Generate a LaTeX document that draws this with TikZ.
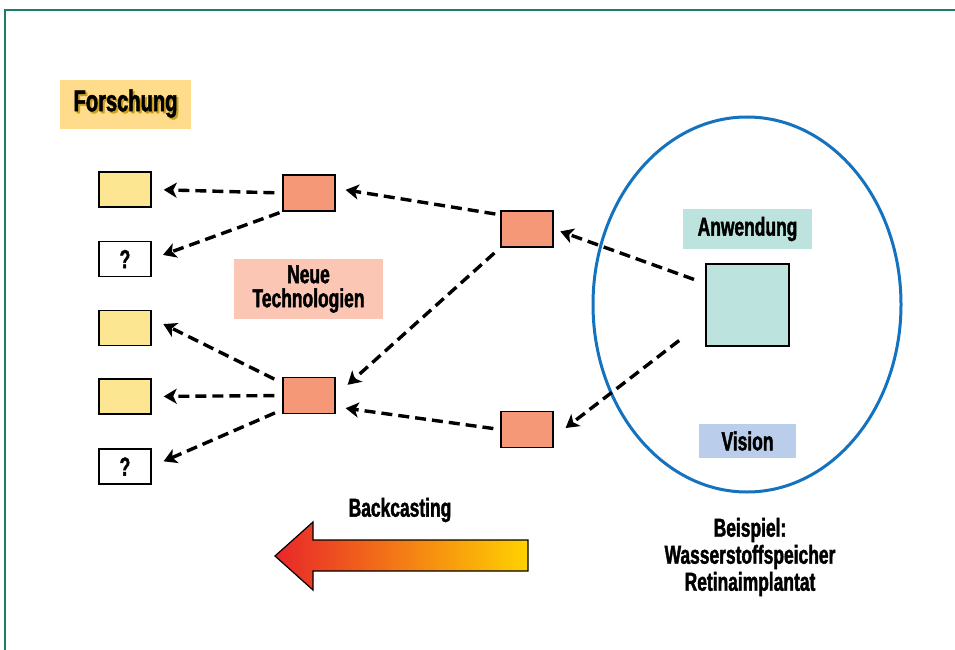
\documentclass[tikz,border=0pt]{standalone}
\usepackage{fontspec}
\setmainfont{Liberation Sans}[FakeStretch=0.67,BoldFeatures={FakeBold=1.6}]
\usetikzlibrary{arrows.meta,calc}

\definecolor{frameteal}{RGB}{30,125,105}
\definecolor{resyellow}{RGB}{253,230,145}
\definecolor{resorange}{RGB}{255,219,140}
\definecolor{shadowgold}{RGB}{200,160,30}
\definecolor{techsalmon}{RGB}{245,152,120}
\definecolor{techlight}{RGB}{251,198,180}
\definecolor{appteal}{RGB}{189,227,223}
\definecolor{visionblue}{RGB}{186,205,234}
\definecolor{ellblue}{RGB}{20,114,190}
\definecolor{castred}{RGB}{232,38,42}
\definecolor{castorange}{RGB}{243,140,40}
\definecolor{castyellow}{RGB}{255,210,0}

\newcommand\shadowed[1]{\makebox[0pt][l]{\hspace{2pt}\raisebox{-2pt}{\textcolor{shadowgold}{#1}}}#1}

\tikzset{
  lbl/.style={font=\fontsize{26}{27}\selectfont\bfseries,align=center},
  smallbox/.style={draw=black,line width=1.4pt,minimum width=52pt,minimum height=35pt,inner sep=0pt,lbl},
  resbox/.style={smallbox,fill=resyellow},
  askbox/.style={smallbox,fill=white},
  techbox/.style={smallbox,fill=techsalmon,minimum height=36pt},
  dasharrow/.style={line width=3.4pt,dash pattern=on 11pt off 6pt,
    -{Stealth[length=13pt,width=15pt,inset=3.5pt]},shorten <=8pt,shorten >=12pt}
}

\begin{document}
\begin{tikzpicture}[x=1pt,y=-1pt]
  \useasboundingbox (0,0) rectangle (955,650);
  \draw[frameteal,line width=2.5pt] (5,651) -- (5,10) -- (956,10);

  % Forschung
  \node[lbl,font=\fontsize{30}{30}\selectfont\bfseries,fill=resorange,minimum width=131pt,minimum height=49pt,inner sep=0pt] (forschung) at (125.5,104.5) {\shadowed{Forschung}};

  % left column
  \node[resbox] (res 1) at (125,189.5) {};
  \node[askbox] (ask 1) at (125,259) {?};
  \node[resbox] (res 2) at (125,328) {};
  \node[resbox] (res 3) at (125,396.5) {};
  \node[askbox] (ask 2) at (125,466.5) {?};

  % technologies
  \node[techbox] (tech a) at (309,193) {};
  \node[techbox] (tech b) at (527,229) {};
  \node[techbox] (tech c) at (309,395.5) {};
  \node[techbox] (tech d) at (527,429.5) {};
  \node[lbl,fill=techlight,minimum width=149pt,minimum height=60pt,inner sep=0pt] (neue) at (308.5,289) {Neue\\[-3pt]Technologien};

  % vision
  \draw[ellblue,line width=3pt] (747,304.5) ellipse [x radius=154,y radius=187.5];
  \node[lbl,fill=appteal,minimum width=129pt,minimum height=40pt,inner sep=0pt] (anwendung) at (747.5,229) {Anwendung};
  \node[draw=black,line width=1.4pt,fill=appteal,minimum width=83pt,minimum height=82pt,inner sep=0pt] (app) at (747.5,305) {};
  \node[lbl,fill=visionblue,minimum width=97pt,minimum height=34pt,inner sep=0pt] (vision) at (747.5,441) {Vision};

  % backcasting arrows
  \draw[dasharrow] (tech a.west) -- (res 1.east);
  \draw[dasharrow,shorten <=3pt] (tech a.south west) -- (ask 1.east);
  \draw[dasharrow,shorten <=5pt,shorten >=10pt] (tech b.152) -- (tech a.10);
  \draw[dasharrow,shorten >=16pt] (tech b.south west) -- (tech c.east);
  \draw[dasharrow,shorten <=9pt,shorten >=13pt] (tech c.155) -- (res 2.20);
  \draw[dasharrow] (tech c.west) -- (res 3.east);
  \draw[dasharrow,shorten >=13pt] (tech c.208) -- (ask 2.east);
  \draw[dasharrow,shorten <=7pt,shorten >=10pt] (tech d.west) -- (tech c.-23);
  \draw[dasharrow,shorten <=12pt,shorten >=7pt] (app.153) -- (tech b.east);
  \draw[dasharrow,shorten <=33pt,shorten >=15pt] (app.200) -- (tech d.-16);

  % big arrow
  \node[lbl] (backcasting) at (400,510) {Backcasting};
  \draw[black,line width=1.2pt,left color=castred,middle color=castorange,right color=castyellow]
    (528,540) -- (313,540) -- (313,522) -- (275,556) -- (313,590) -- (313,571) -- (528,571) -- cycle;

  \node[lbl] (beispiel) at (750,557) {Beispiel:\\Wasserstoffspeicher\\Retinaimplantat};
\end{tikzpicture}
\end{document}
